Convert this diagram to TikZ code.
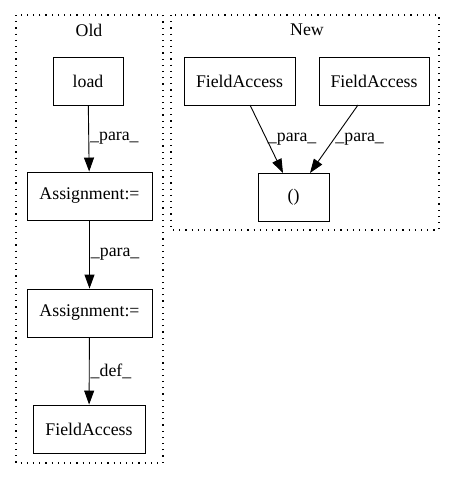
\documentclass[tikz,border=0pt]{standalone}
\usepackage{fontspec}
\setmainfont{Liberation Serif}
\usetikzlibrary{arrows.meta,positioning}

\tikzset{
	block/.style={draw, rectangle, inner sep=0pt, minimum height=48pt, font=\fontsize{17.8}{20}\selectfont},
	cluster/.style={draw, dash pattern=on 1.2pt off 5pt, line width=1.2pt},
	lbl/.style={font=\fontsize{17.8}{20}\selectfont, inner sep=1pt},
	arr/.style={-{Triangle[length=14pt,width=10pt]}}
}

\begin{document}
\begin{tikzpicture}[x=1pt, y=-1pt, line width=0.9pt]
		\useasboundingbox (0,0) rectangle (457,480);
		% clusters
		\draw[cluster] (16,15) rectangle (163,463);
		\draw[cluster] (171,15) rectangle (439,230);
		\draw
			(89,30) node [lbl] (old) {Old}
			(307,30) node [lbl] (new) {New}
			;
		% old
		\draw
			(88,81) node [block, minimum width=70pt] (load) {load}
			(89.5,196) node [block, minimum width=125pt] (asg1) {Assignment:=}
			(89.5,313) node [block, minimum width=125pt] (asg2) {Assignment:=}
			(89,429) node [block, minimum width=112pt] (fa) {FieldAccess}
			;
		% new
		\draw
			(239.5,81) node [block, minimum width=111pt] (fa1) {FieldAccess}
			(374,81) node [block, minimum width=110pt] (fa2) {FieldAccess}
			(293.5,197) node [block, minimum width=71pt] (tup) {()}
			;
		\coordinate (fa1s) at (250,105);
		\coordinate (fa2s) at (358,105);
		\coordinate (tupa) at (283,173);
		\coordinate (tupb) at (310,173);
		\draw[arr] (load) -- node [lbl, right] {\_para\_} (asg1);
		\draw[arr] (asg1) -- node [lbl, right] {\_para\_} (asg2);
		\draw[arr] (asg2) -- node [lbl, right] {\_def\_} (fa);
		\draw[arr] (fa1s) -- node [lbl, right] {\_para\_} (tupa);
		\draw[arr] (fa2s) -- node [lbl, right] {\_para\_} (tupb);
	\end{tikzpicture}
\end{document}
